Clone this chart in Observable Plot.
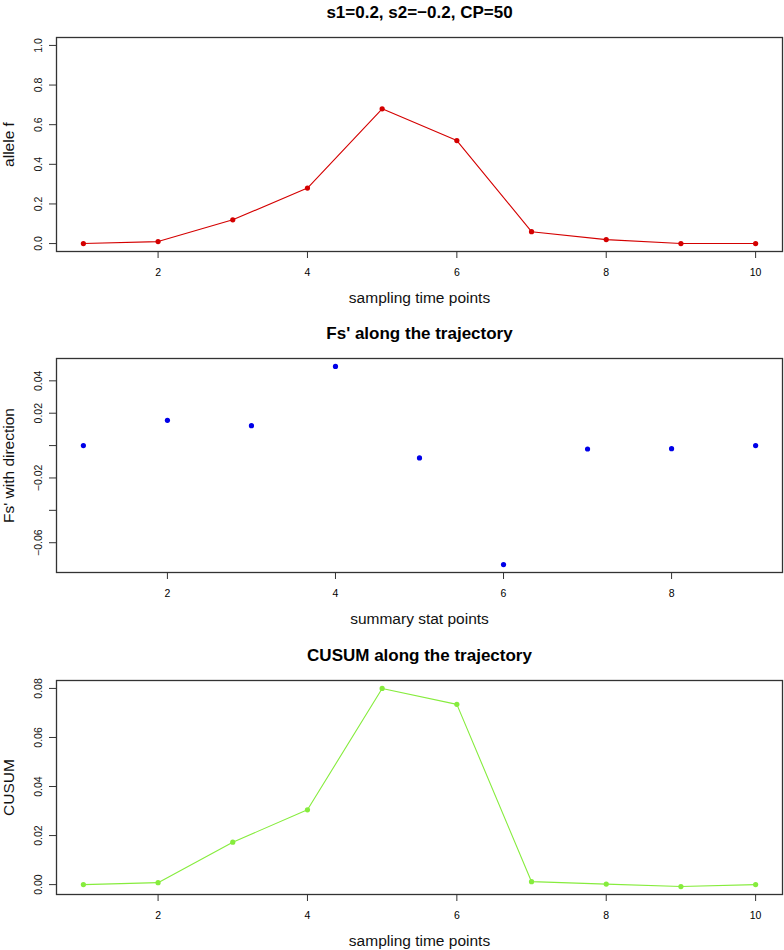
<!DOCTYPE html>
<html>
<head>
<meta charset="utf-8">
<script src="https://cdn.jsdelivr.net/npm/d3@7"></script>
<script src="https://cdn.jsdelivr.net/npm/@observablehq/plot@0.6"></script>
<style>
  body { margin: 0; background: #fff; }
  #wrap svg { display: block; }
  #wrap { width: 784px; font-family: "Liberation Sans", Arial, Helvetica, sans-serif; }
</style>
</head>
<body>
<div id="wrap"></div>
<script>
// ---- data ----
const samplingPoints = [1, 2, 3, 4, 5, 6, 7, 8, 9, 10];
const alleleF = [0.0, 0.01, 0.12, 0.28, 0.68, 0.52, 0.06, 0.02, 0.0, 0.0];
const statPoints = [1, 2, 3, 4, 5, 6, 7, 8, 9];
const fsDirection = [0.0, 0.0156, 0.0123, 0.0489, -0.0076, -0.0735, -0.0021, -0.0019, 0.0];
const cusum = [0.0, 0.0008, 0.0173, 0.0305, 0.080, 0.0735, 0.0012, 0.0002, -0.0008, 0.0];

const titles = ["s1=0.2, s2=\u22120.2, CP=50", "Fs' along the trajectory", "CUSUM along the trajectory"];
const xLabels = ["sampling time points", "summary stat points", "sampling time points"];
const yLabels = ["allele f", "Fs' with direction", "CUSUM"];

const yLimits1 = [0, 1];
const yTicks1 = [0, 0.2, 0.4, 0.6, 0.8, 1.0];
const yTickLabels1 = ["0.0", "0.2", "0.4", "0.6", "0.8", "1.0"];
const yTicks2 = [-0.06, -0.04, -0.02, 0, 0.02, 0.04];
const yTickLabels2 = ["\u22120.06", "", "\u22120.02", "", "0.02", "0.04"];
const yTicks3 = [0, 0.02, 0.04, 0.06, 0.08];
const yTickLabels3 = ["0.00", "0.02", "0.04", "0.06", "0.08"];
const xTicks1 = [2, 4, 6, 8, 10];
const xTicks2 = [2, 4, 6, 8];

const FONT = "Liberation Sans, Arial, Helvetica, sans-serif";

function rDomain(vals) {
  const lo = d3.min(vals), hi = d3.max(vals), pad = (hi - lo) * 0.04;
  return [lo - pad, hi + pad];
}

function panel({xs, ys, ylim, color, line, height, marginTop, marginBottom, title, xLabel, yLabel, yTicks, yTickLabels, xTicks}) {
  const data = xs.map((x, i) => ({x, y: ys[i]}));
  const marks = [];
  if (line) marks.push(Plot.line(data, {x: "x", y: "y", stroke: color, strokeWidth: 1.1}));
  marks.push(Plot.dot(data, {x: "x", y: "y", r: 2.6, fill: color, stroke: "none"}));
  marks.push(Plot.frame({stroke: "#333", strokeWidth: 1.3}));
  marks.push(Plot.axisX({ticks: xTicks, tickSize: 7, tickPadding: 10, fontSize: 10.5, label: null, tickFormat: d => String(d), stroke: "#333"}));
  marks.push(Plot.axisY({ticks: yTicks, tickSize: 7, tickFormat: () => "", label: null, stroke: "#333"}));
  marks.push(Plot.text(yTicks.map((t, i) => ({t, s: yTickLabels[i]})), {
    y: "t", text: "s", frameAnchor: "left", dx: -18, rotate: -90, textAnchor: "middle", lineAnchor: "middle", fontSize: 10.5, fill: "#111"
  }));
  marks.push(Plot.text([title], {frameAnchor: "top", dy: -25, text: d => d, textAnchor: "middle", lineAnchor: "middle", fontSize: 17, fontWeight: "bold", fill: "#000"}));
  marks.push(Plot.text([xLabel], {frameAnchor: "bottom", dy: 47, text: d => d, textAnchor: "middle", lineAnchor: "middle", fontSize: 15.5, fill: "#111"}));
  marks.push(Plot.text([yLabel], {frameAnchor: "left", dx: -47, rotate: -90, text: d => d, textAnchor: "middle", lineAnchor: "middle", fontSize: 15.5, fill: "#111"}));
  return Plot.plot({
    width: 784,
    height,
    marginLeft: 56,
    marginRight: 2,
    marginTop,
    marginBottom,
    style: {fontFamily: FONT, background: "#fff", overflow: "visible"},
    x: {domain: rDomain(xs), axis: null},
    y: {domain: rDomain(ylim || ys), axis: null},
    marks
  });
}

const wrap = document.getElementById("wrap");
wrap.appendChild(panel({
  xs: samplingPoints, ys: alleleF, ylim: yLimits1, color: "#d40000", line: true,
  height: 310, marginTop: 37, marginBottom: 59,
  title: titles[0], xLabel: xLabels[0], yLabel: yLabels[0],
  yTicks: yTicks1, yTickLabels: yTickLabels1, xTicks: xTicks1
}));
wrap.appendChild(panel({
  xs: statPoints, ys: fsDirection, color: "#0000e8", line: false,
  height: 320, marginTop: 48, marginBottom: 58,
  title: titles[1], xLabel: xLabels[1], yLabel: yLabels[1],
  yTicks: yTicks2, yTickLabels: yTickLabels2, xTicks: xTicks2
}));
wrap.appendChild(panel({
  xs: samplingPoints, ys: cusum, color: "#86ec3d", line: true,
  height: 320, marginTop: 50, marginBottom: 56,
  title: titles[2], xLabel: xLabels[2], yLabel: yLabels[2],
  yTicks: yTicks3, yTickLabels: yTickLabels3, xTicks: xTicks1
}));
</script>
</body>
</html>
